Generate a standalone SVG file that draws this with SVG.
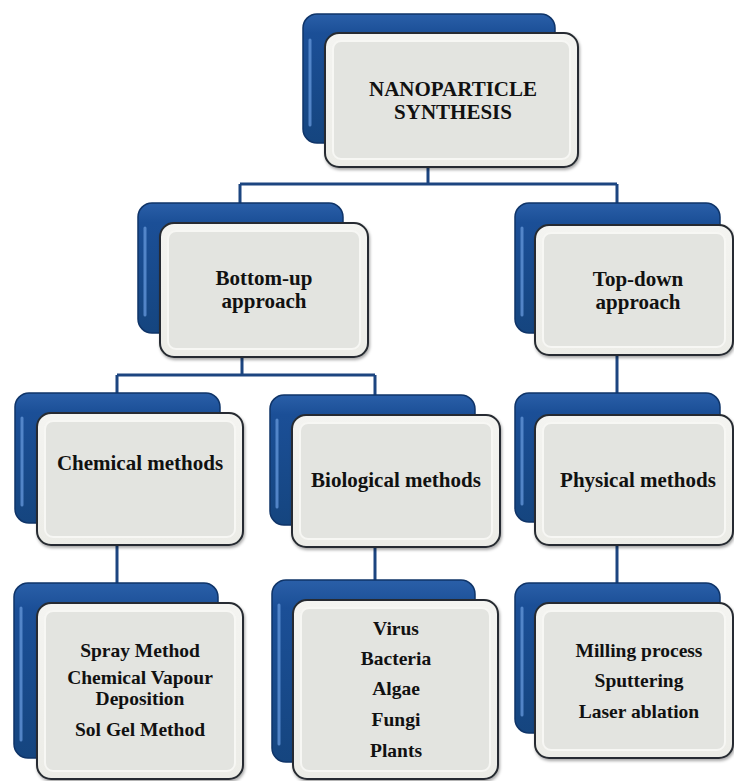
<svg xmlns="http://www.w3.org/2000/svg" width="734" height="781" viewBox="0 0 734 781">
<style>
.bk{fill:url(#gBlue);stroke:#0f3468;stroke-width:1.5}
.hl{fill:none;stroke:#5d8fd2;stroke-width:3;stroke-linecap:round;opacity:0.85}
.fr{fill:url(#gFace);stroke:#262b30;stroke-width:2;filter:url(#sh)}
.in{fill:#e3e4e0;stroke:#f7f7f4;stroke-width:2}
.t{font-family:"Liberation Serif","Times New Roman",serif;font-weight:bold;font-size:21px;fill:#111;text-anchor:middle}
.s{font-size:19.5px}
.c{fill:none;stroke:#1c4580;stroke-width:3}
</style>
<defs>
<linearGradient id="gBlue" x1="0" y1="0" x2="0" y2="1">
<stop offset="0" stop-color="#2a5fa8"/>
<stop offset="0.15" stop-color="#1b4f97"/>
<stop offset="1" stop-color="#15457f"/>
</linearGradient>
<linearGradient id="gFace" x1="0" y1="0" x2="0" y2="1">
<stop offset="0" stop-color="#f4f4f1"/>
<stop offset="1" stop-color="#ecece7"/>
</linearGradient>
<filter id="sh" x="-10%" y="-10%" width="130%" height="130%">
<feDropShadow dx="1" dy="2" stdDeviation="1.5" flood-color="#000" flood-opacity="0.35"/>
</filter>
</defs>
<rect width="734" height="781" fill="#fff"/>
<g id="connectors">
<path class="c" d="M428 167V184M240 184H617M240 184V203M617 184V203"/>
<path class="c" d="M242 357V375M117 375H375M117 375V393M375 375V395"/>
<path class="c" d="M617 355V393"/>
<path class="c" d="M117 545V583"/>
<path class="c" d="M375 547V580"/>
<path class="c" d="M617 545V583"/>
</g>
<g id="n-root">
<rect class="bk" x="303" y="14" width="252" height="129" rx="14"/>
<path class="hl" d="M310 40V125"/>
<rect class="fr" x="325" y="33" width="253" height="134" rx="14"/>
<rect class="in" x="333" y="41" width="237" height="118" rx="8"/>
<text class="t" x="453" y="96">NANOPARTICLE</text>
<text class="t" x="453" y="119">SYNTHESIS</text>
</g>
<g id="n-bottomup">
<rect class="bk" x="138" y="203" width="205" height="130" rx="14"/>
<path class="hl" d="M145 228V315"/>
<rect class="fr" x="160" y="223" width="208" height="134" rx="14"/>
<rect class="in" x="168" y="231" width="192" height="118" rx="8"/>
<text class="t" x="264" y="285">Bottom-up</text>
<text class="t" x="264" y="308">approach</text>
</g>
<g id="n-topdown">
<rect class="bk" x="515" y="203" width="205" height="130" rx="14"/>
<path class="hl" d="M522 228V315"/>
<rect class="fr" x="535" y="225" width="198" height="130" rx="14"/>
<rect class="in" x="543" y="233" width="182" height="114" rx="8"/>
<text class="t" x="638" y="286">Top-down</text>
<text class="t" x="638" y="309">approach</text>
</g>
<g id="n-chemical">
<rect class="bk" x="15" y="393" width="205" height="130" rx="14"/>
<path class="hl" d="M22 418V505"/>
<rect class="fr" x="37" y="413" width="206" height="132" rx="14"/>
<rect class="in" x="45" y="421" width="190" height="116" rx="8"/>
<text class="t" x="140" y="470">Chemical methods</text>
</g>
<g id="n-biological">
<rect class="bk" x="270" y="395" width="205" height="130" rx="14"/>
<path class="hl" d="M277 420V507"/>
<rect class="fr" x="292" y="415" width="208" height="132" rx="14"/>
<rect class="in" x="300" y="423" width="192" height="116" rx="8"/>
<text class="t" x="396" y="487">Biological methods</text>
</g>
<g id="n-physical">
<rect class="bk" x="515" y="393" width="205" height="129" rx="14"/>
<path class="hl" d="M522 418V504"/>
<rect class="fr" x="535" y="415" width="198" height="130" rx="14"/>
<rect class="in" x="543" y="423" width="182" height="114" rx="8"/>
<text class="t" x="638" y="487">Physical methods</text>
</g>
<g id="n-chemlist">
<rect class="bk" x="14" y="583" width="204" height="175" rx="14"/>
<path class="hl" d="M21 608V740"/>
<rect class="fr" x="37" y="603" width="206" height="176" rx="14"/>
<rect class="in" x="45" y="611" width="190" height="160" rx="8"/>
<text class="t s" x="140" y="657">Spray Method</text>
<text class="t s" x="140" y="684">Chemical Vapour</text>
<text class="t s" x="140" y="705">Deposition</text>
<text class="t s" x="140" y="736">Sol Gel Method</text>
</g>
<g id="n-biolist">
<rect class="bk" x="272" y="580" width="203" height="182" rx="14"/>
<path class="hl" d="M279 605V744"/>
<rect class="fr" x="293" y="600" width="205" height="179" rx="14"/>
<rect class="in" x="301" y="608" width="189" height="163" rx="8"/>
<text class="t s" x="396" y="635">Virus</text>
<text class="t s" x="396" y="665">Bacteria</text>
<text class="t s" x="396" y="695">Algae</text>
<text class="t s" x="396" y="726">Fungi</text>
<text class="t s" x="396" y="757">Plants</text>
</g>
<g id="n-physlist">
<rect class="bk" x="515" y="583" width="205" height="150" rx="14"/>
<path class="hl" d="M522 608V715"/>
<rect class="fr" x="535" y="603" width="198" height="155" rx="14"/>
<rect class="in" x="543" y="611" width="182" height="139" rx="8"/>
<text class="t s" x="639" y="657">Milling process</text>
<text class="t s" x="639" y="687">Sputtering</text>
<text class="t s" x="639" y="718">Laser ablation</text>
</g>
</svg>
